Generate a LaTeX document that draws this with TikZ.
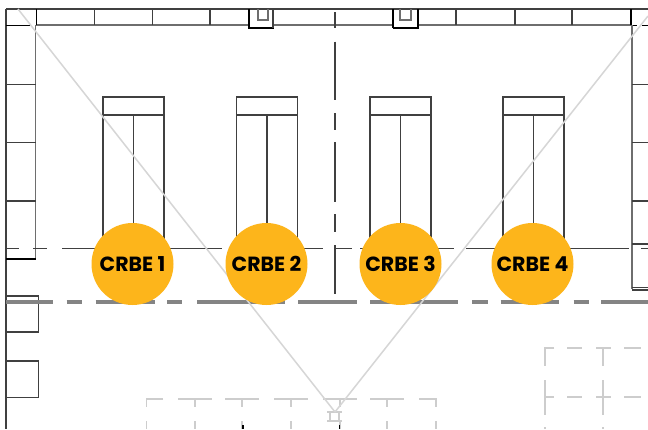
\documentclass[tikz,border=0pt]{standalone}
\usepackage{fontspec}
\setmainfont{Poppins}
\definecolor{badge}{HTML}{FDB51B}
\definecolor{wallg}{HTML}{6E6E6E}
\definecolor{darkl}{HTML}{404040}
\definecolor{diag}{HTML}{D6D6D6}
\definecolor{gridl}{HTML}{CDCDCD}
\tikzset{
  thinwall/.style={draw=darkl,line width=1.2pt},
  graywall/.style={draw=wallg,line width=1.6pt},
  heavy/.style={draw=black,line width=1.8pt},
  elev/.style={draw=darkl,line width=1.3pt},
  corridor/.style={draw=wallg!85,line width=3.3pt},
  axisline/.style={draw=darkl,line width=1.3pt},
  diagline/.style={draw=diag,line width=1.5pt},
  gridline/.style={draw=gridl,line width=1.4pt},
  crbe/.style={circle,fill=badge,minimum size=82pt,inner sep=0pt,font=\bfseries\fontsize{20.5}{24}\selectfont,text=black}
}
\begin{document}
\begin{tikzpicture}[x=1pt,y=-1pt]
\useasboundingbox (0,0) rectangle (648,429);
\fill[white] (0,0) rectangle (648,429);
% bottom grid (light)
\foreach \a/\b in {178/212,225/259,274/308,323/357,370/404}{\draw[gridline] (\a,399) -- (\b,399);}
\draw[gridline] (163,399) -- (146.5,399) -- (146.5,407);
\draw[gridline] (419,399) -- (436,399) -- (436,407);
\foreach \x in {146.5,195,242,291,340,387,436}{\draw[gridline] (\x,421) -- (\x,429);}
\foreach \x in {195,242,291,340,387}{\draw[gridline] (\x,399) -- (\x,407);}
% right grid (light)
\draw[gridline] (554,348) -- (545,348) -- (545,366);
\draw[gridline] (545,380) -- (545,415);
\draw[gridline] (545,427) -- (545,429);
\draw[gridline] (603,348) -- (603,366);
\draw[gridline] (603,380) -- (603,415);
\draw[gridline] (603,427) -- (603,429);
\foreach \y in {348,397}{
  \foreach \a/\b in {567/582,596/611,624/641}{\draw[gridline] (\a,\y) -- (\b,\y);}
}
\draw[gridline] (545,397) -- (554,397);
% small square at the apex
\draw[gridline] (330,412) rectangle (339,421);
\draw[gridline] (327,412) -- (342,412);
\draw[gridline] (327,421) -- (342,421);
\fill[black] (338.5,425) rectangle (340,429);
\fill[black] (242,425) rectangle (243.5,429);
% walls
\draw[thinwall] (6,9) -- (648,9);
\draw[graywall] (36,25) -- (248,25);
\draw[graywall] (273,25) -- (392,25);
\draw[graywall] (419,25) -- (631,25);
\draw[thinwall] (6,9) -- (6,429);
\foreach \x in {94.5,152.5,210,456,515,572}{\draw[thinwall] (\x,9) -- (\x,25);}
\draw[heavy] (6,25.5) -- (30,25.5);
\draw[heavy] (36.5,9) -- (36.5,25);
\draw[heavy] (631,9) -- (631,25);
\draw[heavy] (631,25.5) -- (637,25.5);
\draw[heavy] (642,25.5) -- (648,25.5);
% left door
\draw[line width=2.8pt] (249,9) -- (249,28);
\draw[heavy] (248,28) -- (273.5,28);
\draw[thinwall] (273,9) -- (273,28);
\draw[graywall] (258,9) -- (258,20) -- (268,20) -- (268,9);
% right door
\draw[line width=2.8pt] (418,9) -- (418,28);
\draw[heavy] (392.5,28) -- (419,28);
\draw[line width=1.4pt] (393,9) -- (393,28);
\draw[graywall] (400,9) -- (400,20) -- (411,20) -- (411,9);
% side walls
\draw[graywall] (35.5,25) -- (35.5,259);
\draw[heavy] (6,259) -- (36,259);
\foreach \y in {84.5,142.5,201}{\draw[thinwall] (6,\y) -- (35.5,\y);}
\draw[line width=2.1pt,draw=wallg] (632,25) -- (632,289);
\foreach \y in {84.5,142.5,201}{\draw[thinwall] (632,\y) -- (648,\y);}
\draw[thinwall] (632,244) -- (648,244);
\draw[thinwall] (632,287.5) -- (648,287.5);
\draw[thinwall] (632,290) -- (648,290);
% boxes on left
\draw[thinwall] (6,296) rectangle (38.5,332);
\draw[thinwall] (6,361) rectangle (38.5,397.5);
% elevators
\foreach \l in {103,236.5,370,503}{
  \draw[elev] (\l,248) -- (\l,97) -- ++(61,0) -- ++(0,151);
  \draw[elev] (\l,115) -- ++(61,0);
  \draw[elev] (\l+30.5,115) -- ++(0,133);
}
% centre axis
\foreach \a/\b in {12/28,41.5/100,113/130,142/201.5,214/232,245/294}{\draw[axisline] (335,\a) -- (335,\b);}
% line at y = 248.5
\foreach \a/\b in {6/19,33/47,62/222,237/290,302/323,335/352,360/454,466/629,641/648}{\draw[thinwall] (\a,248.5) -- (\b,248.5);}
% corridor at y = 302
\foreach \a/\b in {6/53,66.5/82,95.5/155,167/182,197/285,298/357,370/458,472/488,500.5/559,573.5/589,601/648}{\draw[corridor] (\a,302) -- (\b,302);}
% diagonals
\coordinate (apex) at (335,412);
\coordinate (cornerL) at (18,9);
\coordinate (cornerR) at (648,16);
\draw[diagline] (cornerL) -- (apex);
\draw[diagline] (cornerR) -- (apex);
% badges
\node[crbe] (c1) at (132.5,264) {CRBE 1};
\node[crbe] (c2) at (266.5,264) {CRBE 2};
\node[crbe] (c3) at (400.5,264) {CRBE 3};
\node[crbe] (c4) at (532.5,264) {CRBE 4};
\end{tikzpicture}
\end{document}
